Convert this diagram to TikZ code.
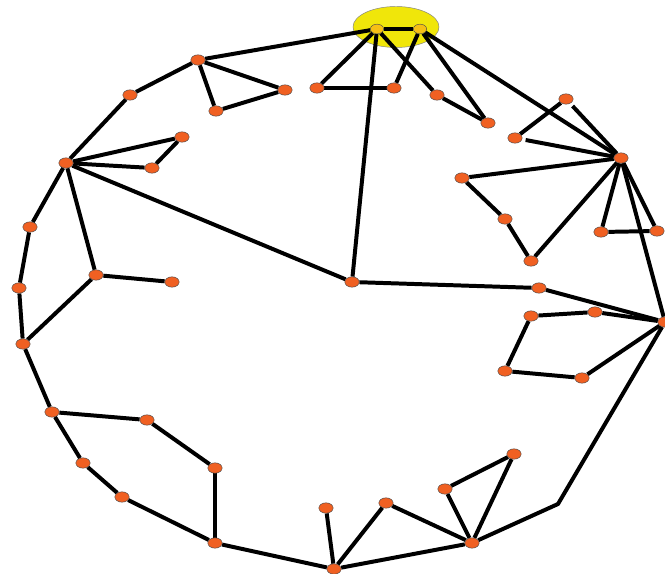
\documentclass[tikz,border=0pt]{standalone}
\usepackage{tikz}
\usetikzlibrary{shapes.geometric,backgrounds}
\definecolor{vtxorange}{RGB}{240,96,34}
\definecolor{rootgold}{RGB}{246,192,20}
\definecolor{blobyellow}{RGB}{240,230,10}

\begin{document}
\begin{tikzpicture}[x=0.3mm, y=-0.3mm,
    vtx/.style={ellipse, draw=black!70, line width=0.4pt, fill=vtxorange, inner sep=0pt, minimum width=4.3mm, minimum height=3.1mm},
    root/.style={vtx, fill=rootgold, minimum width=4mm, minimum height=2.9mm},
    blob/.style={ellipse, draw=black!50, line width=0.4pt, fill=blobyellow, inner sep=0pt, minimum width=25.8mm, minimum height=12.3mm},
    edge/.style={line width=3.4pt, black}
]
\useasboundingbox (0,0) rectangle (665,574);

\node[root] (a1) at (377,29) {};
\node[root] (a2) at (420,29) {};

\node[vtx] (n1) at (198,60) {};
\node[vtx] (n2) at (130,95) {};
\node[vtx] (n3) at (216,111) {};
\node[vtx] (n4) at (285,90) {};
\node[vtx] (n5) at (182,137) {};
\node[vtx] (n6) at (152,168) {};
\node[vtx] (n7) at (66,163) {};
\node[vtx] (n8) at (30,227) {};
\node[vtx] (n9) at (19,288) {};
\node[vtx] (n10) at (96,275) {};
\node[vtx] (n11) at (172,282) {};
\node[vtx] (n12) at (23,344) {};
\node[vtx] (n13) at (52,412) {};
\node[vtx] (n14) at (147,420) {};
\node[vtx] (n15) at (215,468) {};
\node[vtx] (n16) at (83,463) {};
\node[vtx] (n17) at (122,497) {};
\node[vtx] (n18) at (215,543) {};
\node[vtx] (n19) at (326,508) {};
\node[vtx] (n20) at (334,569) {};
\node[vtx] (n21) at (386,503) {};
\node[vtx] (n22) at (445,489) {};
\node[vtx] (n23) at (514,454) {};
\node[vtx] (n24) at (472,543) {};
\node[vtx] (n25) at (665,322) {};
\node[vtx] (n26) at (595,312) {};
\node[vtx] (n27) at (531,316) {};
\node[vtx] (n28) at (505,371) {};
\node[vtx] (n29) at (582,378) {};
\node[vtx] (n30) at (539,288) {};
\node[vtx] (n31) at (352,282) {};
\node[vtx] (n32) at (317,88) {};
\node[vtx] (n33) at (394,88) {};
\node[vtx] (n34) at (437,95) {};
\node[vtx] (n35) at (488,123) {};
\node[vtx] (n36) at (566,99) {};
\node[vtx] (n37) at (515,138) {};
\node[vtx] (n38) at (621,158) {};
\node[vtx] (n39) at (462,178) {};
\node[vtx] (n40) at (505,219) {};
\node[vtx] (n41) at (531,261) {};
\node[vtx] (n42) at (601,232) {};
\node[vtx] (n43) at (657,231) {};
\coordinate (bend) at (558,504);

\begin{scope}[on background layer]
\node[blob] (grp) at (396,27) {};

\draw[edge] (a1) -- (a2);
\draw[edge] (a1) -- (n1);
\draw[edge] (a1) -- (n32);
\draw[edge] (a1) -- (n31);
\draw[edge] (a1) -- (n34);
\draw[edge] (a2) -- (n33);
\draw[edge] (a2) -- (n35);
\draw[edge] (a2) -- (n38);

\draw[edge] (n1) -- (n2);
\draw[edge] (n1) -- (n3);
\draw[edge] (n1) -- (n4);
\draw[edge] (n3) -- (n4);
\draw[edge] (n2) -- (n7);
\draw[edge] (n7) -- (n5);
\draw[edge] (n7) -- (n6);
\draw[edge] (n5) -- (n6);
\draw[edge] (n7) -- (n8);
\draw[edge] (n7) -- (n10);
\draw[edge] (n7) -- (n31);
\draw[edge] (n8) -- (n9);
\draw[edge] (n9) -- (n12);
\draw[edge] (n10) -- (n11);
\draw[edge] (n10) -- (n12);
\draw[edge] (n12) -- (n13);
\draw[edge] (n13) -- (n14);
\draw[edge] (n13) -- (n16);
\draw[edge] (n14) -- (n15);
\draw[edge] (n15) -- (n18);
\draw[edge] (n16) -- (n17);
\draw[edge] (n17) -- (n18);
\draw[edge] (n18) -- (n20);
\draw[edge] (n19) -- (n20);
\draw[edge] (n20) -- (n21);
\draw[edge] (n20) -- (n24);
\draw[edge] (n21) -- (n24);
\draw[edge] (n22) -- (n23);
\draw[edge] (n22) -- (n24);
\draw[edge] (n23) -- (n24);
\draw[edge] (n24) -- (bend) -- (n25);
\draw[edge] (n25) -- (n26);
\draw[edge] (n25) -- (n29);
\draw[edge] (n25) -- (n30);
\draw[edge] (n25) -- (n38);
\draw[edge] (n26) -- (n27);
\draw[edge] (n27) -- (n28);
\draw[edge] (n28) -- (n29);
\draw[edge] (n30) -- (n31);
\draw[edge] (n32) -- (n33);
\draw[edge] (n34) -- (n35);
\draw[edge] (n36) -- (n37);
\draw[edge, shorten <=3pt] (n36) -- (n38);
\draw[edge, shorten <=3pt] (n37) -- (n38);
\draw[edge] (n38) -- (n39);
\draw[edge] (n39) -- (n40);
\draw[edge] (n40) -- (n41);
\draw[edge] (n41) -- (n38);
\draw[edge] (n38) -- (n42);
\draw[edge] (n42) -- (n43);
\draw[edge] (n38) -- (n43);
\end{scope}
\end{tikzpicture}
\end{document}
